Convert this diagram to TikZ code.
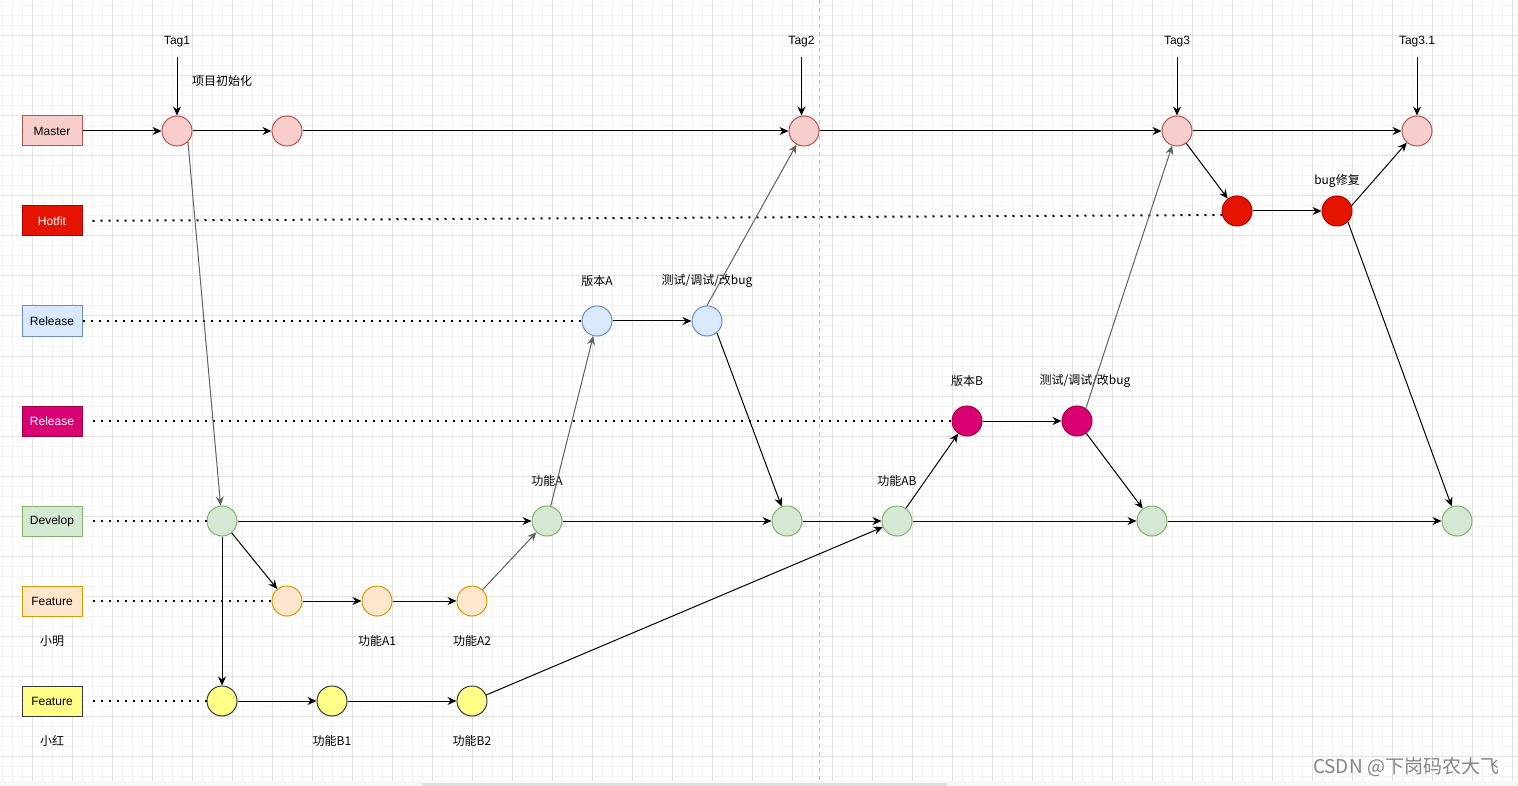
\documentclass[tikz,border=0pt]{standalone}
\usepackage{fontspec}
\setmainfont{Liberation Sans}
\newfontfamily\cjk{Noto Sans CJK SC}
\usetikzlibrary{arrows.meta}

\definecolor{masterfill}{HTML}{F8CECC}  \definecolor{masterline}{HTML}{B85450}
\definecolor{hotfill}{HTML}{E51400}     \definecolor{hotline}{HTML}{B20000}
\definecolor{relfill}{HTML}{DAE8FC}     \definecolor{relline}{HTML}{6C8EBF}
\definecolor{relbfill}{HTML}{D80073}    \definecolor{relbline}{HTML}{A50040}
\definecolor{devfill}{HTML}{D5E8D4}     \definecolor{devline}{HTML}{82B366}
\definecolor{featfill}{HTML}{FFE6CC}    \definecolor{featline}{HTML}{D79B00}
\definecolor{featbfill}{HTML}{FFFF88}   \definecolor{featbline}{HTML}{36393D}
\definecolor{gridmin}{HTML}{F3F3F3}     \definecolor{gridmaj}{HTML}{E2E2E2}

\begin{document}
\begin{tikzpicture}[x=1pt, y=-1pt, font=\fontsize{12}{14}\selectfont,
  branch/.style={draw=#1line, fill=#1fill, line width=1pt, minimum width=60pt,
                 minimum height=30pt, inner sep=0pt},
  commit/.style={circle, draw=#1line, fill=#1fill, line width=1pt,
                 minimum size=30pt, inner sep=0pt},
  txt/.style={minimum width=60pt, minimum height=30pt, inner sep=0pt},
  zh/.style={txt, font=\cjk\fontsize{12}{14}\selectfont},
  flow/.style={line width=1pt, -{Stealth[length=9pt,width=8pt,inset=3pt]}},
  faint/.style={flow, draw=black!62},
  lane/.style={line width=2pt, dash pattern=on 2pt off 6pt},
]
  \useasboundingbox (0,0) rectangle (1518,786);
  \fill[white] (0,0) rectangle (1518,786);

  % grille de fond
  \foreach \x in {2,12,...,1512} \draw[gridmin, line width=1pt] (\x,0) -- (\x,781);
  \foreach \y in {6,16,...,776} \draw[gridmin, line width=1pt] (0,\y) -- (1518,\y);
  \foreach \x in {32,72,...,1512} \draw[gridmaj, line width=1pt] (\x,0) -- (\x,781);
  \foreach \y in {36,76,...,756} \draw[gridmaj, line width=1pt] (0,\y) -- (1518,\y);
  \draw[black!25, dash pattern=on 4pt off 4pt] (819.5,0) -- (819.5,781);
  \fill[black!3] (0,781) rectangle (1518,786);
  \fill[black!12] (422,782.5) rectangle (947,786);

  % branches
  \node[branch=master] (lmaster) at (52,131) {Master};
  \node[branch=hot, text=white] (lhot) at (52,221) {Hotfit};
  \node[branch=rel] (lrel) at (52,321) {Release};
  \node[branch=relb, text=white] (lrelb) at (52,421) {Release};
  \node[branch=dev] (ldev) at (52,521) {Develop};
  \node[branch=feat] (lfeat) at (52,601) {Feature};
  \node[branch=featb] (lfeatb) at (52,701) {Feature};
  \node[zh] (tming) at (52,641) {小明};
  \node[zh] (thong) at (52,741) {小红};

  % commits
  \node[commit=master] (m1) at (177,131) {};
  \node[commit=master] (m2) at (287,131) {};
  \node[commit=master] (m3) at (804,131) {};
  \node[commit=master] (m4) at (1177,131) {};
  \node[commit=master] (m5) at (1417,131) {};
  \node[commit=hot] (h1) at (1237,211) {};
  \node[commit=hot] (h2) at (1337,211) {};
  \node[commit=rel] (r1) at (597,321) {};
  \node[commit=rel] (r2) at (707,321) {};
  \node[commit=relb] (rb1) at (967,421) {};
  \node[commit=relb] (rb2) at (1077,421) {};
  \node[commit=dev] (d1) at (222,521) {};
  \node[commit=dev] (d2) at (547,521) {};
  \node[commit=dev] (d3) at (787,521) {};
  \node[commit=dev] (d4) at (897,521) {};
  \node[commit=dev] (d5) at (1152,521) {};
  \node[commit=dev] (d6) at (1457,521) {};
  \node[commit=feat] (f1) at (287,601) {};
  \node[commit=feat] (f2) at (377,601) {};
  \node[commit=feat] (f3) at (472,601) {};
  \node[commit=featb] (y1) at (222,701) {};
  \node[commit=featb] (y2) at (332,701) {};
  \node[commit=featb] (y3) at (472,701) {};

  % textes
  \node[txt] (tag1) at (177,42) {Tag1};
  \node[txt] (tag2) at (801.5,42) {Tag2};
  \node[txt] (tag3) at (1177,42) {Tag3};
  \node[txt] (tag31) at (1417,42) {Tag3.1};
  \node[zh] (tinit) at (222,81) {项目初始化};
  \node[zh] (tfix) at (1337,181) {bug修复};
  \node[zh] (tvera) at (597,281) {版本A};
  \node[zh] (ttesta) at (707,281) {测试/调试/改bug};
  \node[zh] (tverb) at (967,381) {版本B};
  \node[zh] (ttestb) at (1085,381) {测试/调试/改bug};
  \node[zh] (tfa) at (547,481) {功能A};
  \node[zh] (tfab) at (897,481) {功能AB};
  \node[zh] (tfa1) at (377,641) {功能A1};
  \node[zh] (tfa2) at (472,641) {功能A2};
  \node[zh] (tfb1) at (332,741) {功能B1};
  \node[zh] (tfb2) at (472,741) {功能B2};
  \node[font=\cjk\fontsize{19}{21}\selectfont, text=black!48, inner sep=0pt] (wm)
       at (1406,767) {CSDN @下岗码农大飞};

  % lignes pointillées
  \draw[lane, shorten <=10pt] (lhot) -- (h1.195);
  \draw[lane] (lrel) -- (r1);
  \draw[lane, shorten <=10pt] (lrelb) -- (rb1);
  \draw[lane, shorten <=10pt] (ldev) -- (d1);
  \draw[lane, shorten <=10pt] (lfeat) -- (f1);
  \draw[lane, shorten <=10pt] (lfeatb) -- (y1);

  % master
  \draw[flow] (lmaster) -- (m1);
  \draw[flow] (m1) -- (m2);
  \draw[flow] (m2) -- (m3);
  \draw[flow] (m3) -- (m4);
  \draw[flow] (m4) -- (m5);
  \draw[flow] (tag1) -- (m1);
  \draw[flow] (tag2) -- (tag2 |- m3.north);
  \draw[flow] (tag3) -- (m4);
  \draw[flow] (tag31) -- (m5);
  \draw[faint] (m1.-45) -- (d1);

  % hotfix
  \draw[flow] (m4) -- (h1);
  \draw[flow] (h1) -- (h2);
  \draw[flow] (h2.20) -- (m5);
  \draw[flow] (h2.-45) -- (d6);

  % release
  \draw[flow] (r1) -- (r2);
  \draw[faint] (r2.north) -- (m3);
  \draw[flow] (r2.-50) -- (d3);
  \draw[flow] (rb1) -- (rb2);
  \draw[faint] (rb2.55) -- (m4);
  \draw[flow] (rb2) -- (d5);

  % develop
  \draw[flow] (d1) -- (d2);
  \draw[flow] (d2) -- (d3);
  \draw[flow] (d3) -- (d4);
  \draw[flow] (d4) -- (d5);
  \draw[flow] (d5) -- (d6);
  \draw[faint] (d2) -- (r1);
  \draw[flow] (d4) -- (rb1);

  % features
  \draw[flow] (d1) -- (f1);
  \draw[flow] (d1) -- (y1);
  \draw[flow] (f1) -- (f2);
  \draw[flow] (f2) -- (f3);
  \draw[faint] (f3) -- (d2);
  \draw[flow] (y1) -- (y2);
  \draw[flow] (y2) -- (y3);
  \draw[flow] (y3) -- (d4);
\end{tikzpicture}
\end{document}
